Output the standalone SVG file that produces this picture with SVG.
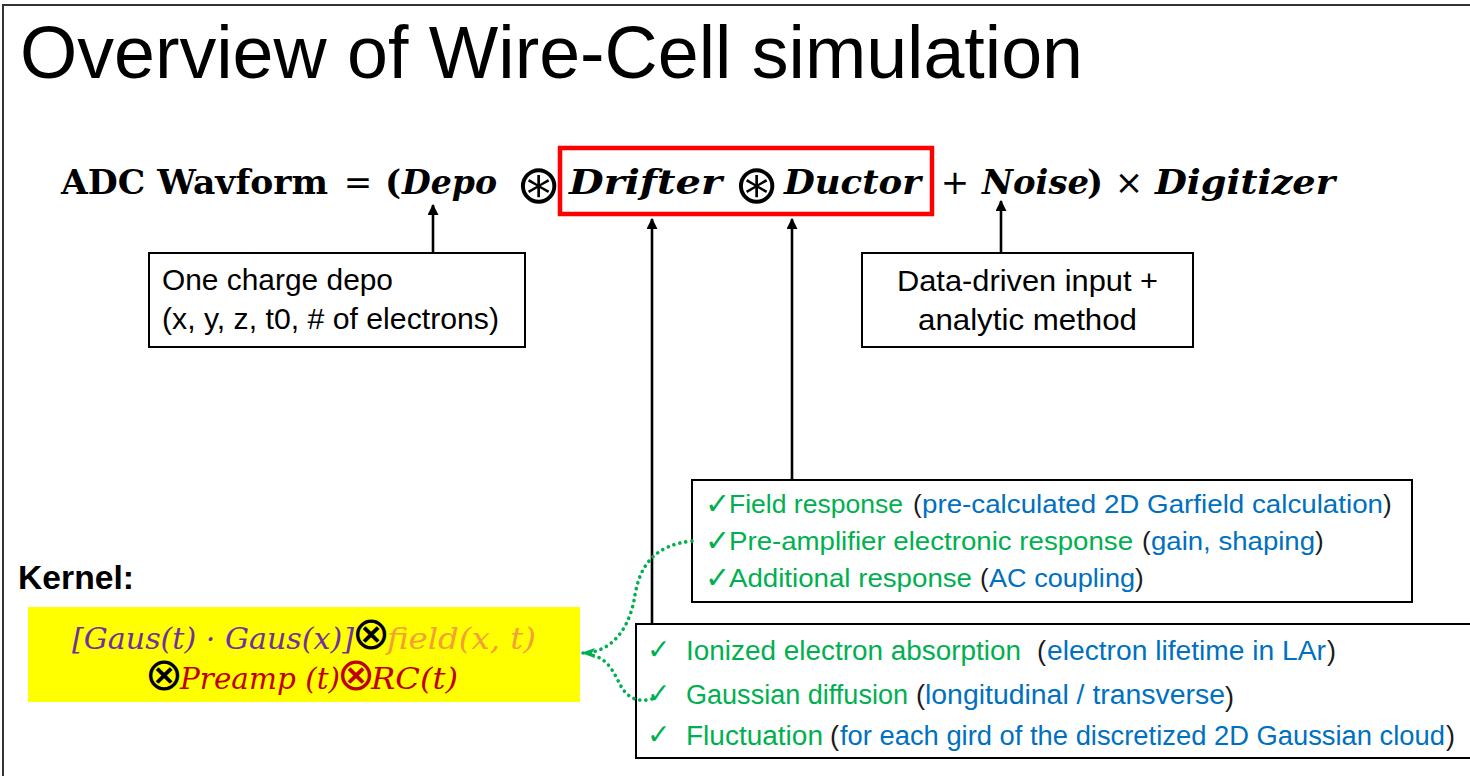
<svg xmlns="http://www.w3.org/2000/svg" width="1470" height="776" viewBox="0 0 1470 776">
  <style>
    .frame { stroke: #333; stroke-width: 2; fill: none; }
    .box { fill: #fff; stroke: #000; stroke-width: 2; }
    .title { font-family: "Liberation Sans", Arial, sans-serif; font-size: 73.6px; fill: #000; }
    .eq { font-family: "DejaVu Serif", "Liberation Serif", serif; font-size: 34px; font-weight: bold; fill: #000; }
    .eqi { font-style: italic; }
    .op { font-family: "DejaVu Sans", sans-serif; font-weight: normal; fill: #000; }
    .conv { font-family: "DejaVu Sans", sans-serif; font-size: 54px; font-weight: 200; fill: #000; }
    .kop { font-family: "DejaVu Sans", sans-serif; font-size: 46px; }
    .note { font-family: "Liberation Sans", Arial, sans-serif; font-size: 30px; fill: #000; }
    .kernel { font-family: "Liberation Sans", Arial, sans-serif; font-size: 33.5px; font-weight: bold; fill: #000; }
    .math { font-family: "DejaVu Serif", "Liberation Serif", serif; font-size: 30px; font-style: italic; }
    .item { font-family: "Liberation Sans", Arial, sans-serif; font-size: 27px; }
    .item-s { font-family: "Liberation Sans", Arial, sans-serif; font-size: 26px; }
    .chk { font-family: "DejaVu Sans", sans-serif; fill: #00B050; }
    .g { fill: #00B050; }
    .b { fill: #0070C0; }
    .p { fill: #1a1a1a; }
    .arrow { stroke: #000; stroke-width: 2.6; fill: none; marker-end: url(#head); }
    .dots { stroke: #00B050; stroke-width: 3.6; fill: none; stroke-dasharray: 0.1 6; stroke-linecap: round; }
  </style>
  <defs>
    <marker id="head" viewBox="0 0 10 10" refX="9" refY="5" markerWidth="11" markerHeight="11" markerUnits="userSpaceOnUse" orient="auto">
      <path d="M0,0 L10,5 L0,10 z" fill="#000"/>
    </marker>
    <marker id="ghead" viewBox="0 0 14 10" refX="13" refY="5" markerWidth="14" markerHeight="10" markerUnits="userSpaceOnUse" orient="auto">
      <path d="M0,0 L14,5 L0,10 L3,5 z" fill="#00B050"/>
    </marker>
  </defs>

  <rect width="1470" height="776" fill="#fff"/>
  <!-- slide frame (top and left edges) -->
  <path class="frame" d="M3,776 L3,5 L1470,5"/>

  <text class="title" x="20" y="78" textLength="1063" lengthAdjust="spacingAndGlyphs">Overview of Wire-Cell simulation</text>

  <!-- equation -->
  <g id="equation">
    <text class="eq" x="61" y="194" textLength="267" lengthAdjust="spacingAndGlyphs">ADC Wavform</text>
    <text class="eq op" x="358" y="194" text-anchor="middle">=</text>
    <text class="eq" x="393" y="194" text-anchor="middle" font-weight="normal">(</text>
    <text class="eq eqi" x="402" y="194" textLength="95" lengthAdjust="spacingAndGlyphs">Depo</text>
    <text class="conv" x="538" y="203" text-anchor="middle">⊛</text>
    <text class="eq eqi" x="569" y="194" textLength="153" lengthAdjust="spacingAndGlyphs">Drifter</text>
    <text class="conv" x="756" y="203" text-anchor="middle">⊛</text>
    <text class="eq eqi" x="784" y="194" textLength="137" lengthAdjust="spacingAndGlyphs">Ductor</text>
    <text class="eq op" x="955" y="194" text-anchor="middle">+</text>
    <text class="eq eqi" x="982" y="194" textLength="107" lengthAdjust="spacingAndGlyphs">Noise</text>
    <text class="eq" x="1095" y="194" text-anchor="middle" font-weight="normal">)</text>
    <text class="eq op" x="1129" y="194" text-anchor="middle">×</text>
    <text class="eq eqi" x="1155" y="194" textLength="180" lengthAdjust="spacingAndGlyphs">Digitizer</text>
  </g>

  <!-- highlight around the Drifter ⊛ Ductor term -->
  <rect id="response-highlight" x="560" y="148" width="372" height="66" fill="none" stroke="#FF0000" stroke-width="4.5"/>

  <g id="depo-note">
    <rect class="box" x="149" y="253" width="376" height="94"/>
    <text class="note" x="162" y="290" textLength="231" lengthAdjust="spacingAndGlyphs">One charge depo</text>
    <text class="note" x="162" y="329" textLength="337" lengthAdjust="spacingAndGlyphs">(x, y, z, t0, # of electrons)</text>
  </g>

  <g id="noise-note">
    <rect class="box" x="862" y="253" width="331" height="94"/>
    <text class="note" x="897" y="291" textLength="261" lengthAdjust="spacingAndGlyphs">Data-driven input +</text>
    <text class="note" x="918" y="330" textLength="219" lengthAdjust="spacingAndGlyphs">analytic method</text>
  </g>

  <g id="ductor-note">
    <rect class="box" x="692" y="480" width="720" height="122"/>
    <text class="chk" x="705" y="514" font-size="30">✓</text>
    <text class="item-s g" x="729" y="513" textLength="174" lengthAdjust="spacingAndGlyphs">Field response</text>
    <text class="item-s p" x="913" y="513">(</text>
    <text class="item-s b" x="922" y="513" textLength="461" lengthAdjust="spacingAndGlyphs">pre-calculated 2D Garfield calculation</text>
    <text class="item-s p" x="1383" y="513">)</text>

    <text class="chk" x="705" y="551" font-size="30">✓</text>
    <text class="item-s g" x="729" y="550" textLength="404" lengthAdjust="spacingAndGlyphs">Pre-amplifier electronic response</text>
    <text class="item-s p" x="1142" y="550">(</text>
    <text class="item-s b" x="1151" y="550" textLength="164" lengthAdjust="spacingAndGlyphs">gain, shaping</text>
    <text class="item-s p" x="1315" y="550">)</text>

    <text class="chk" x="705" y="588" font-size="30">✓</text>
    <text class="item-s g" x="729" y="587" textLength="243" lengthAdjust="spacingAndGlyphs">Additional response</text>
    <text class="item-s p" x="980" y="587">(</text>
    <text class="item-s b" x="989" y="587" textLength="146" lengthAdjust="spacingAndGlyphs">AC coupling</text>
    <text class="item-s p" x="1135" y="587">)</text>
  </g>

  <g id="drifter-note">
    <rect class="box" x="636" y="624" width="850" height="134"/>
    <text class="chk" x="647" y="659" font-size="28">✓</text>
    <text class="item g" x="686" y="660" textLength="335" lengthAdjust="spacingAndGlyphs">Ionized electron absorption</text>
    <text class="item p" x="1037" y="660">(</text>
    <text class="item b" x="1047" y="660" textLength="279" lengthAdjust="spacingAndGlyphs">electron lifetime in LAr</text>
    <text class="item p" x="1327" y="660">)</text>

    <text class="chk" x="647" y="703" font-size="28">✓</text>
    <text class="item g" x="686" y="704" textLength="222" lengthAdjust="spacingAndGlyphs">Gaussian diffusion</text>
    <text class="item p" x="916" y="704">(</text>
    <text class="item b" x="925" y="704" textLength="300" lengthAdjust="spacingAndGlyphs">longitudinal / transverse</text>
    <text class="item p" x="1225" y="706" font-size="34">)</text>

    <text class="chk" x="647" y="744" font-size="28">✓</text>
    <text class="item g" x="686" y="745" textLength="137" lengthAdjust="spacingAndGlyphs">Fluctuation</text>
    <text class="item p" x="830" y="745">(</text>
    <text class="item b" x="840" y="745" textLength="605" lengthAdjust="spacingAndGlyphs">for each gird of the discretized 2D Gaussian cloud</text>
    <text class="item p" x="1446" y="745">)</text>
  </g>

  <text class="kernel" x="18" y="589" textLength="116" lengthAdjust="spacingAndGlyphs">Kernel:</text>

  <g id="kernel">
    <rect x="28" y="607" width="552" height="95" fill="#FFFF00"/>
    <text class="math" x="72" y="649" fill="#7030A0" textLength="282" lengthAdjust="spacingAndGlyphs">[Gaus(t) · Gaus(x)]</text>
    <text class="kop" x="371" y="649" text-anchor="middle" fill="#000">⊗</text>
    <text class="math" x="387" y="649" fill="#F4A03A" textLength="149" lengthAdjust="spacingAndGlyphs">field(x, t)</text>
    <text class="kop" x="164" y="690" text-anchor="middle" fill="#000">⊗</text>
    <text class="math" x="180" y="689" fill="#C00000" textLength="160" lengthAdjust="spacingAndGlyphs">Preamp (t)</text>
    <text class="kop" x="356" y="690" text-anchor="middle" fill="#C00000">⊗</text>
    <text class="math" x="371" y="689" fill="#C00000" textLength="87" lengthAdjust="spacingAndGlyphs">RC(t)</text>
  </g>

  <!-- connectors, drawn last so the dotted link reaches into the drift box -->
  <g id="connectors">
    <path class="arrow" d="M433,253 L433,205"/>
    <path class="arrow" d="M652,624 L652,219"/>
    <path class="arrow" d="M792,480 L792,219"/>
    <path class="arrow" d="M1001,253 L1001,201"/>
    <path class="dots" d="M692,541 C655,545 640,565 635,595 C631,622 616,653 582,653" marker-end="url(#ghead)"/>
    <path class="dots" d="M652,699 C640,702 630,700 622,688 C615,676 609,657 590,655"/>
  </g>
</svg>
